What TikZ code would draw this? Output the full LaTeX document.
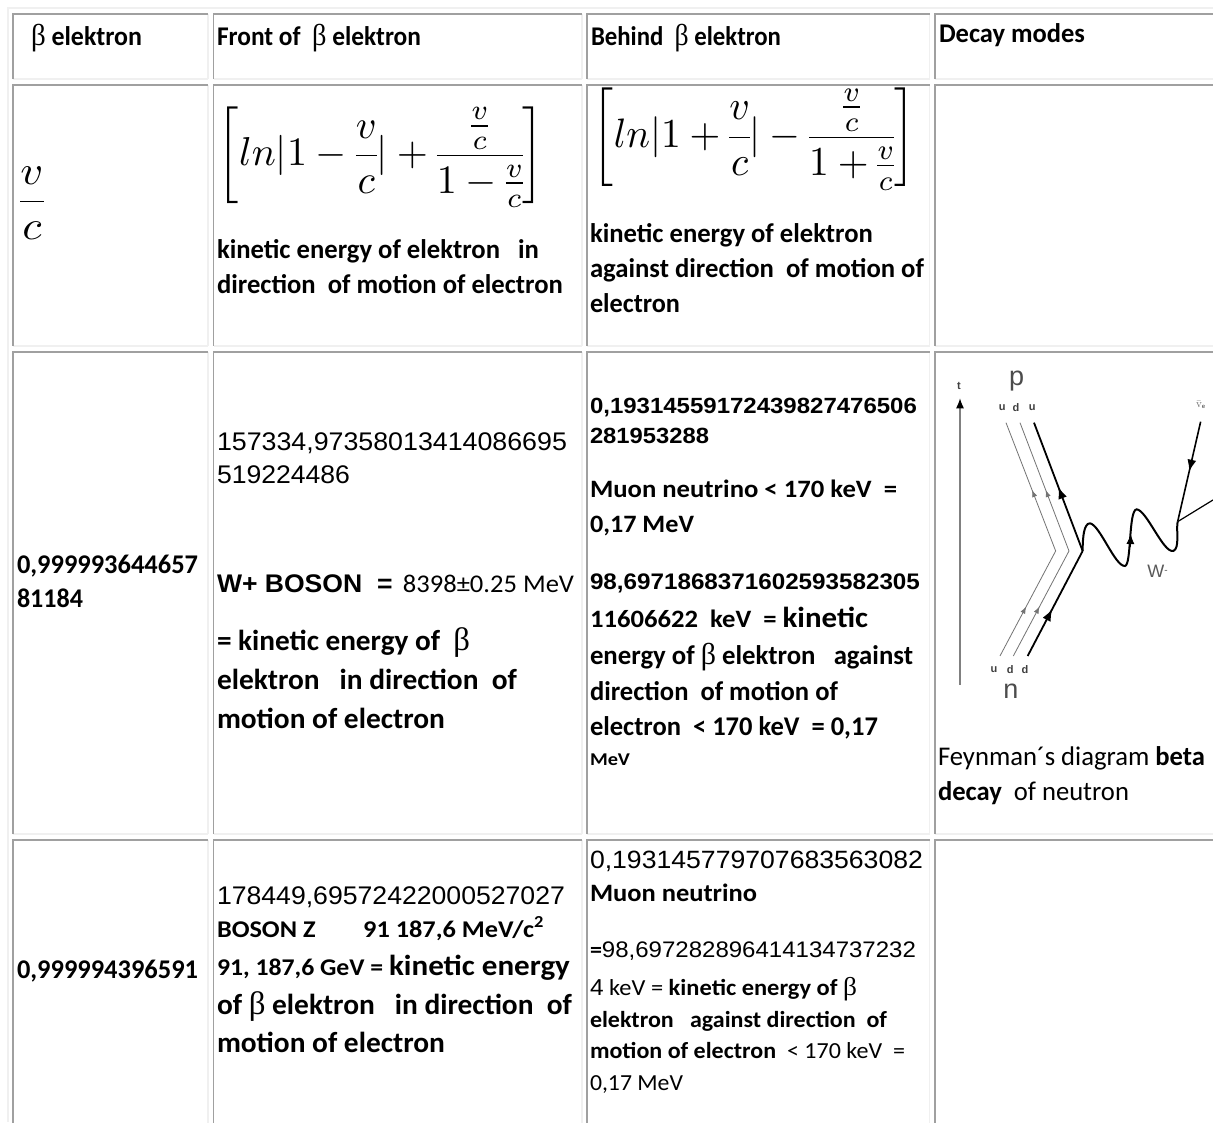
\documentclass[tikz,border=0pt]{standalone}
\usepackage[no-math]{fontspec}
\usepackage{graphicx}
\usetikzlibrary{arrows.meta,decorations.markings}
\setmainfont{Carlito}
\newfontfamily\arf{Liberation Sans}
\newfontfamily\syf[BoldFont={Liberation Serif}]{Liberation Serif}
\newcommand{\bt}{{\syf\fontsize{1.12em}{1em}\selectfont β}}
\newsavebox\fitbox
\newcommand{\fitw}[2]{\sbox\fitbox{#2}\pgfmathsetmacro\fitr{#1/\wd\fitbox}\scalebox{\fitr}[1]{\usebox\fitbox}}
\tikzset{
  txt/.style={anchor=base west,inner sep=0pt,outer sep=0pt,text=black},
  dark/.style={draw=bordd,line width=1.6pt},
  light/.style={draw=bordl,line width=1.6pt},
  flab/.style={inner sep=0pt,font=\arf\bfseries\fontsize{11}{11}\selectfont,text=black!75},
  bigl/.style={inner sep=0pt,font=\arf\fontsize{27}{27}\selectfont,text=black!70},
  thinq/.style={draw=black!55,line width=.8pt},
  thickq/.style={draw=black,line width=1.8pt},
  midtip/.style 2 args={postaction={decorate},decoration={markings,mark=at position #1 with {\arrow{Latex[length=#2,width=.75*#2]}}}}
}
\definecolor{bordd}{HTML}{A0A0A0}
\definecolor{bordl}{HTML}{F0F0F0}
% name, x, baseline y, width, font size, text
\newcommand{\txtline}[6]{\node[txt,font=\fontsize{#5}{#5}\selectfont] (#1) at (#2,#3) {\fitw{#4}{#6}};}
% left, top, right, bottom
\newcommand{\cellbox}[4]{
  \draw[light] (#3,#2) -- (#3,#4);
  \draw[light] (#1,#4) -- (#3,#4);
  \draw[dark] (#1,#4) -- (#1,#2) -- (#3,#2);}
\nulldelimiterspace=0pt
\begin{document}
\begin{tikzpicture}[x=1pt,y=-1pt]
\useasboundingbox (0,0) rectangle (1213,1122);
\fill[white] (0,0) rectangle (1213,1122);
\draw[light] (8,1122) -- (8,8) -- (1213,8);
\foreach \t/\b in {13.7/79,85/345.7,351.7/834,840/1124}{
  \cellbox{13}{\t}{208}{\b}
  \cellbox{213.5}{\t}{582}{\b}
  \cellbox{587}{\t}{929.5}{\b}
  \cellbox{935}{\t}{1215}{\b}
}
% header
\txtline{h1}{31}{45}{111}{27}{\bfseries\bt\ elektron}
\txtline{h2}{217}{45}{204}{27}{\bfseries Front of\ \ \bt\ elektron}
\txtline{h3}{591}{45}{190}{27}{\bfseries Behind\ \ \bt\ elektron}
\txtline{h4}{939}{42}{146}{27}{\bfseries Decay modes}
% row 2
\node[inner sep=0pt] (vc) at (32,203) {\resizebox*{23pt}{73pt}{$\displaystyle\frac{v}{c}$}};
\node[inner sep=0pt] (f1) at (381,157) {\resizebox*{326pt}{100pt}{$\displaystyle\left[ln|1-\frac{v}{c}|+\frac{\frac{v}{c}}{1-\frac{v}{c}}\right]$}};
\node[inner sep=0pt] (f2) at (754,139) {\resizebox*{322pt}{102pt}{$\displaystyle\left[ln|1+\frac{v}{c}|-\frac{\frac{v}{c}}{1+\frac{v}{c}}\right]$}};
\txtline{a1}{217}{258}{322}{27}{\bfseries kinetic energy of elektron\ \ \ in}
\txtline{a2}{217}{293}{346}{27}{\bfseries direction\ \ of motion of electron}
\txtline{b1}{590}{242}{283}{27}{\bfseries kinetic energy of elektron}
\txtline{b2}{590}{277}{334}{27}{\bfseries against direction\ \ of motion of}
\txtline{b3}{590}{312}{90}{27}{\bfseries electron}
% row 3
\txtline{c1}{17}{573}{181}{27}{\bfseries 0,999993644657}
\txtline{c2}{17}{607}{66}{27}{\bfseries 81184}
\txtline{d1}{217}{450}{350}{25.5}{\arf 157334,97358013414086695}
\txtline{d2}{217}{483}{133}{25.5}{\arf 519224486}
\txtline{d3}{217}{592}{357}{25.5}{{\arf\bfseries W+ BOSON\ \ =} \,8398±0.25 MeV}
\txtline{d4}{217}{650}{253}{29}{\bfseries = kinetic energy of\ \ \bt}
\txtline{d5}{217}{689}{300}{29}{\bfseries elektron\ \ \ in direction\ \ of}
\txtline{d6}{217}{728}{228}{29}{\bfseries motion of electron}
\txtline{e1}{590}{413}{327}{22}{\arf\bfseries 0,19314559172439827476506}
\txtline{e2}{590}{443}{119}{22}{\arf\bfseries 281953288}
\txtline{e3}{590}{497}{307}{25}{\bfseries Muon neutrino < 170 keV\ \ =}
\txtline{e4}{590}{532}{104}{25}{\bfseries 0,17 MeV}
\txtline{e5}{590}{589}{330}{22.5}{\arf\bfseries 98,6971868371602593582305}
\txtline{e6}{590}{627}{278}{25}{\bfseries 11606622\ \ keV\ \ = {\fontsize{29}{29}\selectfont kinetic}}
\txtline{e7}{590}{664}{323}{27}{\bfseries energy of \bt\ elektron\ \ \ against}
\txtline{e8}{590}{700}{248}{27}{\bfseries direction\ \ of motion of}
\txtline{e9}{590}{735}{288}{27}{\bfseries electron\ \ < 170 keV\ \ = 0,17}
\txtline{e10}{590}{765}{40}{18}{\bfseries MeV}
\txtline{g1}{938}{765}{267}{27}{Feynman´s diagram \textbf{beta}}
\txtline{g2}{938}{800}{191}{27}{\textbf{decay}\ \ of neutron}
% row 4
\txtline{i1}{17}{978}{181}{27}{\bfseries 0,999994396591}
\txtline{j1}{217}{904}{348}{25.5}{\arf 178449,69572422000527027}
\txtline{j2}{217}{937}{327}{24}{\bfseries BOSON Z\ \ \ \ \ \ \ \ 91 187,6 MeV/c\textsuperscript{2}}
\txtline{j3}{217}{975}{353}{24}{\bfseries 91, 187,6 GeV = {\fontsize{29}{29}\selectfont kinetic energy}}
\txtline{j4}{217}{1014}{355}{29}{\bfseries of \bt\ elektron\ \ \ in direction\ \ of}
\txtline{j5}{217}{1052}{228}{29}{\bfseries motion of electron}
\txtline{k1}{590}{868}{333}{25}{\arf 0,193145779707683563082}
\txtline{k2}{590}{901}{167}{25}{\bfseries Muon neutrino}
\txtline{k3}{590}{957}{326}{22.5}{{\bfseries =}\arf 98,697282896414134737232}
\txtline{k4}{590}{995}{267}{23}{{\arf 4} keV = \textbf{kinetic energy of \bt}}
\txtline{k5}{590}{1027}{297}{23}{\bfseries elektron\ \ \ against direction\ \ of}
\txtline{k6}{590}{1058}{315}{23}{\textbf{motion of electron}\ \ < 170 keV\ \ =}
\txtline{k7}{590}{1090}{93}{23}{0,17 MeV}
% Feynman diagram
\begin{scope}[shift={(930,350)},x=.3333pt,y=-.3333pt]
\coordinate (tb) at (90,1005);
\coordinate (tt) at (90,145);
\coordinate (p1) at (228,218); \coordinate (m1) at (377,603); \coordinate (n1) at (210,918);
\coordinate (p2) at (270,218); \coordinate (m2) at (417,603); \coordinate (n2) at (250,918);
\coordinate (p3) at (312,218); \coordinate (m3) at (458,603); \coordinate (n3) at (293,918);
\coordinate (wv) at (743,515); \coordinate (nu) at (812,215); \coordinate (el) at (849,450);
\coordinate (wa) at (601,592); \coordinate (wb) at (602,552);
\draw[draw=black!50,line width=1.1pt,-{Latex[length=10pt,width=8pt,black]}] (tb) -- (tt);
\draw[thinq,midtip={.47}{7pt}] (n1) -- (m1);
\draw[thinq,midtip={.475}{7pt}] (m1) -- (p1);
\draw[thinq,midtip={.47}{7pt}] (n2) -- (m2);
\draw[thinq,midtip={.475}{7pt}] (m2) -- (p2);
\draw[thickq,midtip={.447}{12pt}] (n3) -- (m3);
\draw[thickq,midtip={.5}{12pt}] (m3) -- (p3);
\draw[draw=black,line width=2pt] (m3) .. controls (458,560) and (462,520) .. (480,520) .. controls (510,525) and (555,650) .. (585,648) .. controls (605,645) and (595,480) .. (620,478) .. controls (650,480) and (700,610) .. (730,603) .. controls (750,595) and (738,540) .. (wv);
\draw[draw=black,line width=.8pt,-{Latex[length=10pt,width=8pt]}] (wa) -- (wb);
\draw[draw=black,line width=1.6pt,midtip={.5}{12pt}] (nu) -- (wv);
\draw[draw=black,line width=1.2pt] (wv) -- (el);
\node[flab] (tl) at (87,108) {t};
\node[flab] (q1) at (217,173) {u};
\node[flab] (q2) at (258,173) {d};
\node[flab] (q3) at (307,173) {u};
\node[flab] (r1) at (192,960) {u};
\node[flab] (r2) at (241,960) {d};
\node[flab] (r3) at (285,960) {d};
\node[bigl] (pl) at (260,92) {p};
\node[bigl] (nl) at (243,1025) {n};
\node[inner sep=0pt,font=\arf\fontsize{18}{18}\selectfont,text=black!65] (wl) at (683,665) {W\raisebox{4pt}{\fontsize{10}{10}\selectfont -}};
\node[flab,text=black!60] (nl2) at (812,165) {$\bar{\mathrm{v}}$\raisebox{-1pt}{\fontsize{6}{6}\selectfont e}};
\end{scope}
\end{tikzpicture}
\end{document}
